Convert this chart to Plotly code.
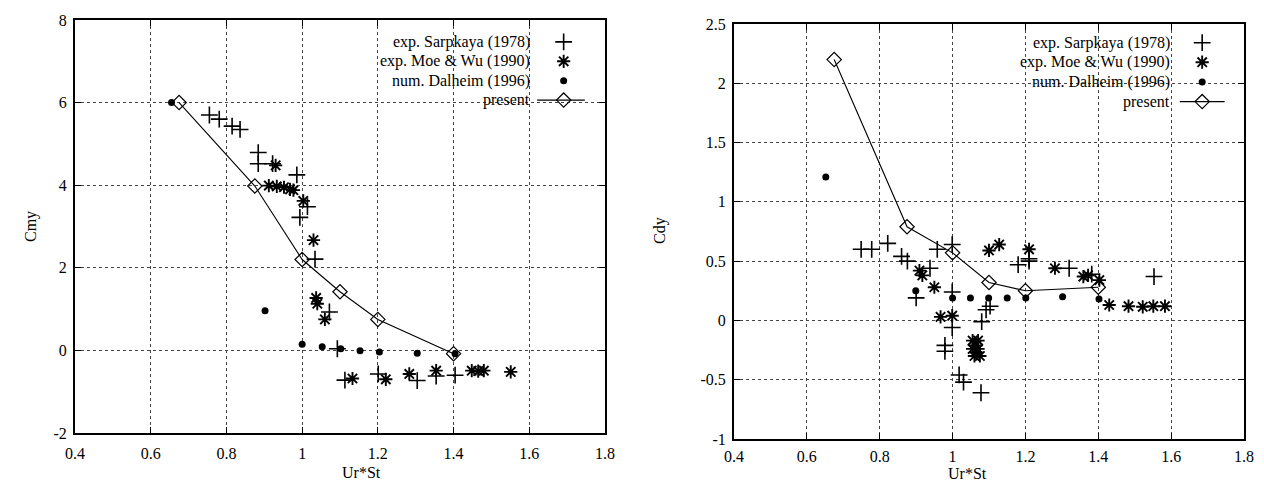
import plotly.graph_objects as go

# ---------------- data: left panel (Cmy) ----------------
cmy_sarp_x = [0.755, 0.781, 0.815, 0.836, 0.884, 0.884, 0.922, 0.986, 0.994, 1.014, 1.034, 1.072,
              1.093, 1.113, 1.201, 1.304, 1.354, 1.404]
cmy_sarp_y = [5.70, 5.60, 5.43, 5.35, 4.79, 4.52, 4.52, 4.25, 3.22, 3.48, 2.21, 0.93,
              0.04, -0.72, -0.57, -0.73, -0.62, -0.60]
cmy_moe_x = [0.912, 0.933, 0.952, 0.968, 0.977, 0.930, 1.003, 1.030, 1.037, 1.040, 1.060,
             1.133, 1.221, 1.283, 1.354, 1.448, 1.465, 1.480, 1.551]
cmy_moe_y = [3.99, 3.97, 3.95, 3.90, 3.88, 4.48, 3.62, 2.67, 1.27, 1.13, 0.75,
             -0.68, -0.70, -0.57, -0.49, -0.49, -0.50, -0.49, -0.52]
cmy_dal_x = [0.655, 0.902, 1.0, 1.053, 1.102, 1.153, 1.204, 1.304, 1.404]
cmy_dal_y = [6.0, 0.96, 0.15, 0.09, 0.04, -0.01, -0.04, -0.07, -0.08]
cmy_pres_x = [0.675, 0.875, 1.0, 1.1, 1.2, 1.4]
cmy_pres_y = [6.0, 3.98, 2.2, 1.42, 0.75, -0.08]

# ---------------- data: right panel (Cdy) ----------------
cdy_sarp_x = [0.749, 0.778, 0.822, 0.860, 0.876, 0.938, 0.900, 0.958, 0.999, 0.999, 0.999,
              0.979, 0.979, 1.018, 1.030, 1.078, 1.080, 1.092, 1.103, 1.180, 1.210, 1.210,
              1.320, 1.382, 1.553]
cdy_sarp_y = [0.60, 0.60, 0.65, 0.54, 0.50, 0.44, 0.19, 0.60, 0.64, 0.24, -0.06,
              -0.21, -0.26, -0.46, -0.52, -0.61, -0.01, 0.09, 0.12, 0.47, 0.50, 0.52,
              0.44, 0.39, 0.37]
cdy_moe_x = [0.909, 0.917, 0.950, 0.967, 0.999, 1.055, 1.070, 1.055, 1.070, 1.060, 1.075,
             1.065, 1.065, 1.100, 1.128, 1.210, 1.281, 1.359, 1.372, 1.403, 1.430, 1.483,
             1.522, 1.551, 1.583]
cdy_moe_y = [0.42, 0.38, 0.28, 0.03, 0.04, -0.17, -0.17, -0.24, -0.24, -0.30, -0.30,
             -0.21, -0.27, 0.59, 0.64, 0.60, 0.44, 0.37, 0.38, 0.34, 0.13, 0.12,
             0.115, 0.12, 0.12]
cdy_dal_x = [0.652, 0.899, 1.0, 1.049, 1.099, 1.150, 1.201, 1.302, 1.402]
cdy_dal_y = [1.21, 0.25, 0.19, 0.19, 0.19, 0.19, 0.19, 0.20, 0.18]
cdy_pres_x = [0.675, 0.875, 1.0, 1.1, 1.2, 1.4]
cdy_pres_y = [2.2, 0.79, 0.57, 0.32, 0.25, 0.28]

x_ticks = [0.4, 0.6, 0.8, 1.0, 1.2, 1.4, 1.6, 1.8]
x_tick_text = ["0.4", "0.6", "0.8", "1", "1.2", "1.4", "1.6", "1.8"]
cmy_ticks = [-2, 0, 2, 4, 6, 8]
cmy_tick_text = ["-2", "0", "2", "4", "6", "8"]
cdy_ticks = [-1, -0.5, 0, 0.5, 1, 1.5, 2, 2.5]
cdy_tick_text = ["-1", "-0.5", "0", "0.5", "1", "1.5", "2", "2.5"]

legend_names = ["exp. Sarpkaya (1978)", "exp. Moe & Wu (1990)", "num. Dalheim (1996)", "present"]

FONT = "Liberation Serif"
OFF = 8                      # default page body margin
W, H = 1264 - 2 * OFF, 489 - 2 * OFF

# plot area pixel boxes in page pixels (left, right, top, bottom)
L_BOX = (75, 605, 20, 433)
R_BOX = (734, 1244, 24, 439)

def px_x(p):
    return (p - OFF) / W

def px_y(p):
    return 1 - (p - OFF) / H

def xdom(b):
    return [px_x(b[0]), px_x(b[1])]

def ydom(b):
    return [px_y(b[3]), px_y(b[2])]

fig = go.Figure()

plus = dict(symbol="cross-thin-open", size=12, color="black", line=dict(width=1.6, color="black"))
star = dict(symbol="asterisk-open", size=11, color="black", line=dict(width=1.9, color="black"))
dot = dict(symbol="circle", size=7, color="black")
diam = dict(symbol="diamond-open", size=11, color="black", line=dict(width=1.2, color="black"))

def add_panel(xa, ya, sx, sy, mx, my, dx, dy, px, py):
    fig.add_trace(go.Scatter(x=sx, y=sy, mode="markers", marker=plus, xaxis=xa, yaxis=ya,
                             showlegend=False, name=legend_names[0]))
    fig.add_trace(go.Scatter(x=mx, y=my, mode="markers", marker=star, xaxis=xa, yaxis=ya,
                             showlegend=False, name=legend_names[1]))
    fig.add_trace(go.Scatter(x=dx, y=dy, mode="markers", marker=dot, xaxis=xa, yaxis=ya,
                             showlegend=False, name=legend_names[2]))
    fig.add_trace(go.Scatter(x=px, y=py, mode="lines+markers", marker=diam,
                             line=dict(color="black", width=1.1), xaxis=xa, yaxis=ya,
                             showlegend=False, name=legend_names[3]))

add_panel("x", "y", cmy_sarp_x, cmy_sarp_y, cmy_moe_x, cmy_moe_y, cmy_dal_x, cmy_dal_y, cmy_pres_x, cmy_pres_y)
add_panel("x2", "y2", cdy_sarp_x, cdy_sarp_y, cdy_moe_x, cdy_moe_y, cdy_dal_x, cdy_dal_y, cdy_pres_x, cdy_pres_y)

# ---------------- custom gnuplot-style legends (key samples on overlay axes 0..1) ----------------
def add_key(xa, ya, xref, yref, text_x, sym_x, line_x0, line_x1, rows):
    syms = [plus, star, dot]
    for i in range(3):
        fig.add_trace(go.Scatter(x=[sym_x], y=[rows[i]], mode="markers", marker=syms[i],
                                 xaxis=xa, yaxis=ya, showlegend=False, hoverinfo="skip"))
    fig.add_trace(go.Scatter(x=[line_x0, line_x1], y=[rows[3], rows[3]], mode="lines",
                             line=dict(color="black", width=1.1), xaxis=xa, yaxis=ya,
                             showlegend=False, hoverinfo="skip"))
    fig.add_trace(go.Scatter(x=[sym_x], y=[rows[3]], mode="markers", marker=diam,
                             xaxis=xa, yaxis=ya, showlegend=False, hoverinfo="skip"))
    for i, name in enumerate(legend_names):
        fig.add_annotation(x=text_x, y=rows[i], xref=xref, yref=yref, text=name,
                           showarrow=False, xanchor="right", yanchor="middle",
                           font=dict(family=FONT, size=16, color="black"))

add_key("x3", "y3", "x domain", "y domain", 0.862, 0.922, 0.872, 0.962, [0.947, 0.900, 0.853, 0.806])
add_key("x4", "y4", "x2 domain", "y2 domain", 0.858, 0.918, 0.874, 0.962, [0.955, 0.908, 0.860, 0.813])

axis_common = dict(showline=True, linecolor="black", linewidth=2, mirror="ticks",
                   ticks="inside", ticklen=6, tickwidth=1.2, tickcolor="black",
                   showgrid=True, gridcolor="#444", griddash="dot", gridwidth=1,
                   zeroline=False, automargin=False,
                   tickfont=dict(family=FONT, size=16, color="black"))

fig.update_layout(
    width=W, height=H,
    margin=dict(l=0, r=0, t=0, b=0, autoexpand=False),
    paper_bgcolor="white", plot_bgcolor="white",
    showlegend=False,
    xaxis=dict(domain=xdom(L_BOX), range=[0.4, 1.8], tickvals=x_ticks, ticktext=x_tick_text,
               anchor="y", ticklabelstandoff=5, **axis_common),
    yaxis=dict(domain=ydom(L_BOX), range=[-2, 8], tickvals=cmy_ticks, ticktext=cmy_tick_text,
               anchor="x", ticklabelstandoff=3, **axis_common),
    xaxis2=dict(domain=xdom(R_BOX), range=[0.4, 1.8], tickvals=x_ticks, ticktext=x_tick_text,
                anchor="y2", ticklabelstandoff=2, **axis_common),
    yaxis2=dict(domain=ydom(R_BOX), range=[-1, 2.5], tickvals=cdy_ticks, ticktext=cdy_tick_text,
                anchor="x2", ticklabelstandoff=3, **axis_common),
    xaxis3=dict(overlaying="x", range=[0, 1], visible=False, anchor="y3", automargin=False),
    yaxis3=dict(overlaying="y", range=[0, 1], visible=False, anchor="x3", automargin=False),
    xaxis4=dict(overlaying="x2", range=[0, 1], visible=False, anchor="y4", automargin=False),
    yaxis4=dict(overlaying="y2", range=[0, 1], visible=False, anchor="x4", automargin=False),
)

# axis titles
title_font = dict(family=FONT, size=16, color="black")
fig.add_annotation(x=px_x(20), y=px_y(227), xref="paper", yref="paper", text="Cmy", textangle=-90,
                   showarrow=False, font=title_font)
fig.add_annotation(x=px_x(660), y=px_y(231), xref="paper", yref="paper", text="Cdy", textangle=-90,
                   showarrow=False, font=title_font)
fig.add_annotation(x=px_x(340), y=px_y(472), xref="paper", yref="paper", text="Ur*St",
                   showarrow=False, font=title_font, yanchor="middle")
fig.add_annotation(x=px_x(989), y=px_y(473), xref="paper", yref="paper", text="Ur*St",
                   showarrow=False, font=title_font, yanchor="middle")

fig.write_html("out.html")
